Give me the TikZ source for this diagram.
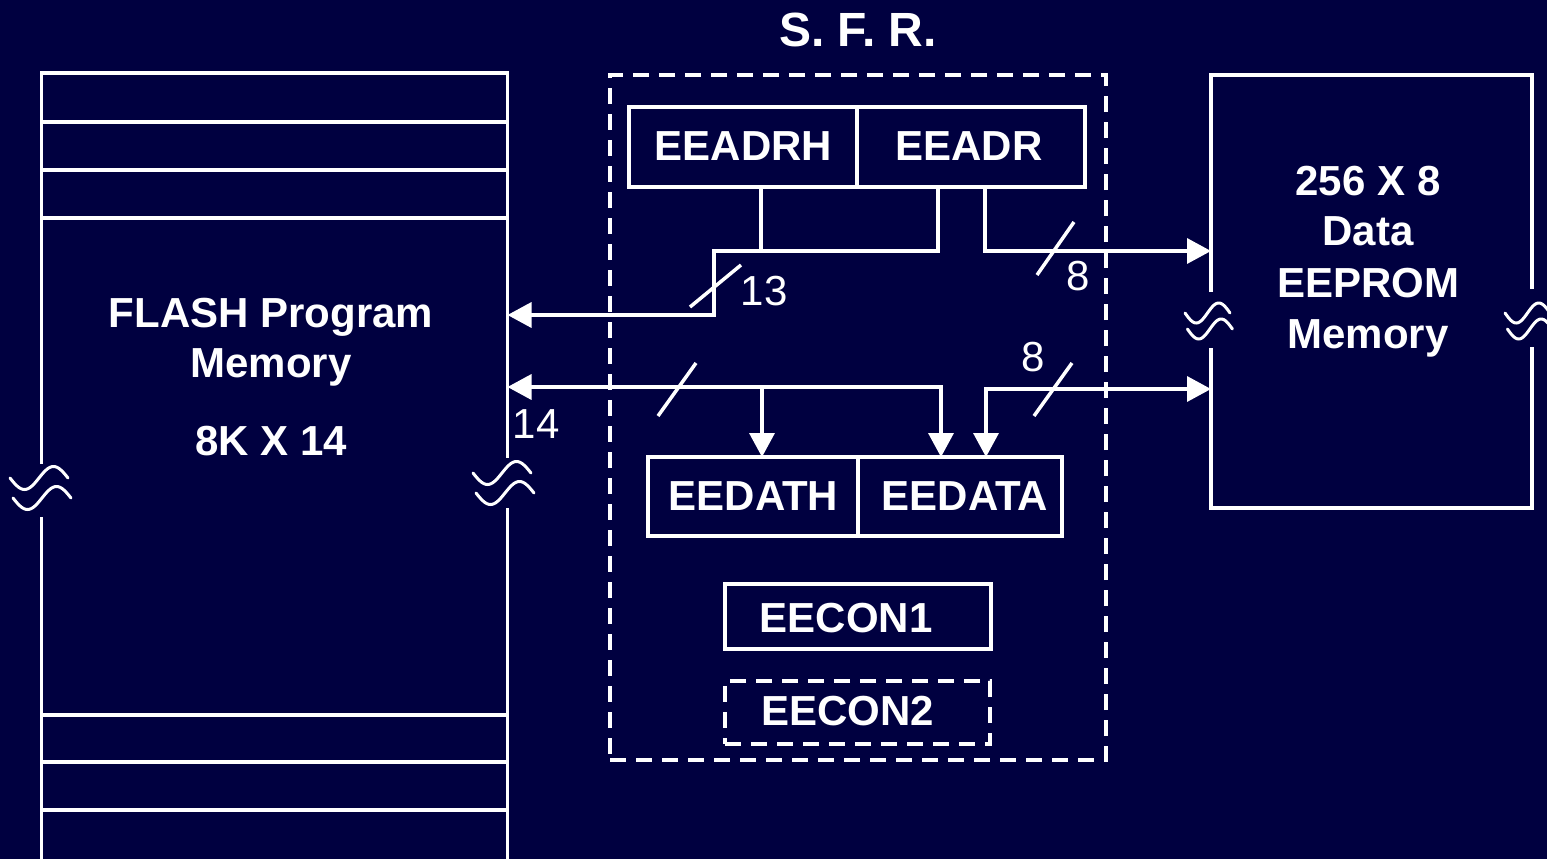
\documentclass[tikz,border=0pt]{standalone}
\usepackage{fontspec}
\setmainfont{Liberation Sans}
\usetikzlibrary{arrows.meta}
\definecolor{bg}{RGB}{0,0,64}
\newcommand\squigmark[5]{% x, y, width, amplitude, offset scale
  \draw[sq, shift={(#1,#2)}] plot[domain=0:360,samples=60,smooth] ({\x/360*#3},{#4*sin(\x)});
  \draw[sq, shift={(#1,#2)}, shift={(3*#5,20*#5)}] plot[domain=0:360,samples=60,smooth] ({\x/360*#3},{#4*sin(\x)});
}
\begin{document}
\begin{tikzpicture}[x=1pt,y=-1pt,
  wl/.style={draw=white, line width=3.5pt},
  sq/.style={draw=white, line width=3pt, line cap=round},
  box/.style={draw=white, line width=3.5pt, rectangle, inner sep=0pt, outer sep=0pt, anchor=north west},
  dbox/.style={box, dash pattern=on 16pt off 10pt},
  area/.style={rectangle, inner sep=0pt, outer sep=0pt, anchor=north west},
  lbl/.style={text=white, font=\fontsize{42}{50}\selectfont\bfseries, anchor=base, inner sep=0pt},
  num/.style={text=white, font=\fontsize{42}{50}\selectfont, anchor=base, inner sep=0pt},
  ttl/.style={text=white, font=\fontsize{48}{56}\selectfont\bfseries, anchor=base, inner sep=0pt},
  arr/.style={wl, -{Triangle[length=24pt,width=25pt]}},
  darr/.style={wl, {Triangle[length=24pt,width=25pt]}-{Triangle[length=24pt,width=25pt]}}
]
\fill[bg] (0,0) rectangle (1547,859);
\useasboundingbox (0,0) rectangle (1547,859);

% ---------- FLASH program memory ----------
\node[area, minimum width=466pt, minimum height=790pt] (flash) at (41.5,73) {};
\draw[wl] (41.5,464) -- (41.5,73) -- (507.5,73) -- (507.5,458);
\draw[wl] (41.5,517) -- (41.5,865);
\draw[wl] (507.5,508) -- (507.5,865);
\foreach \yy in {122,170,218,715,762,810} \draw[wl] (41.5,\yy) -- (507.5,\yy);
\squigmark{10}{478}{58}{11.5}{1}
\squigmark{473}{473}{58}{11.5}{1}
\node[lbl] (tflash1) at (271,327) {FLASH Program};
\node[lbl] (tflash2) at (271,377) {Memory};
\node[lbl] (tflash3) at (271,455) {8K X 14};

% ---------- Data EEPROM ----------
\node[area, minimum width=321pt, minimum height=433pt] (eeprom) at (1211,75) {};
\draw[wl] (1211,292) -- (1211,75) -- (1532,75) -- (1532,289);
\draw[wl] (1532,347) -- (1532,508) -- (1211,508) -- (1211,348);
\squigmark{1185}{313}{45}{10}{0.8}
\squigmark{1505}{313}{45}{10}{0.8}
\node[lbl] (te1) at (1368,195) {256 X 8};
\node[lbl] (te2) at (1368,245) {Data};
\node[lbl] (te3) at (1368,297) {EEPROM};
\node[lbl] (te4) at (1368,348) {Memory};

% ---------- SFR ----------
\node[ttl] (sfrtitle) at (858,47) {S. F. R.};
\node[dbox, minimum width=496pt, minimum height=685pt] (sfr) at (610,75) {};
\node[box, minimum width=228pt, minimum height=80pt] (eeadrh) at (629,107) {};
\node[box, minimum width=228pt, minimum height=80pt] (eeadr) at (857,107) {};
\node[box, minimum width=210pt, minimum height=79pt] (eedath) at (648,457) {};
\node[box, minimum width=204pt, minimum height=79pt] (eedata) at (858,457) {};
\node[box, minimum width=266pt, minimum height=65pt] (eecon1) at (725,584) {};
\node[dbox, minimum width=265pt, minimum height=63pt] (eecon2) at (725,681) {};
\node[lbl] (t1) at (743.5,160) {EEADRH};
\node[lbl] (t2) at (969,160) {EEADR};
\node[lbl] (t3) at (753.5,510) {EEDATH};
\node[lbl] (t4) at (965,510) {EEDATA};
\node[lbl] (t5) at (846,632) {EECON1};
\node[lbl] (t6) at (847.5,725) {EECON2};

% ---------- connectors ----------
\coordinate (j13) at (714,251);
\coordinate (b13) at (714,315);
\coordinate (c8a) at (985,251);
\coordinate (c14) at (941,387);
\coordinate (c14b) at (762,387);
\coordinate (c8b) at (986,389);

\draw[wl] ([xshift=18pt]eeadrh.south) -- ++(0,64);
\draw[arr] ([xshift=-33pt]eeadr.south) |- (j13) -- (b13) -- (flash.east |- b13);
\draw[arr] ([xshift=14pt]eeadr.south) -- (c8a) -- (eeprom.west |- c8a);

\draw[darr] (flash.east |- c14) -- (c14) -- (c14 |- eedata.north);
\draw[arr] (c14b) -- (c14b |- eedath.north);
\draw[darr] (eeprom.west |- c8b) -- (c8b) -- (c8b |- eedata.north);

% bus-width slashes
\draw[wl] (690,307) -- (741,265);
\draw[wl] (1037,275) -- (1074,222);
\draw[wl] (658,416) -- (696,363);
\draw[wl] (1034,416) -- (1072,363);
\node[num] (n13) at (764,305) {13};
\node[num] (n8a) at (1078,290) {8};
\node[num] (n8b) at (1033,371) {8};
\node[num] (n14) at (536,438) {14};
\end{tikzpicture}
\end{document}
